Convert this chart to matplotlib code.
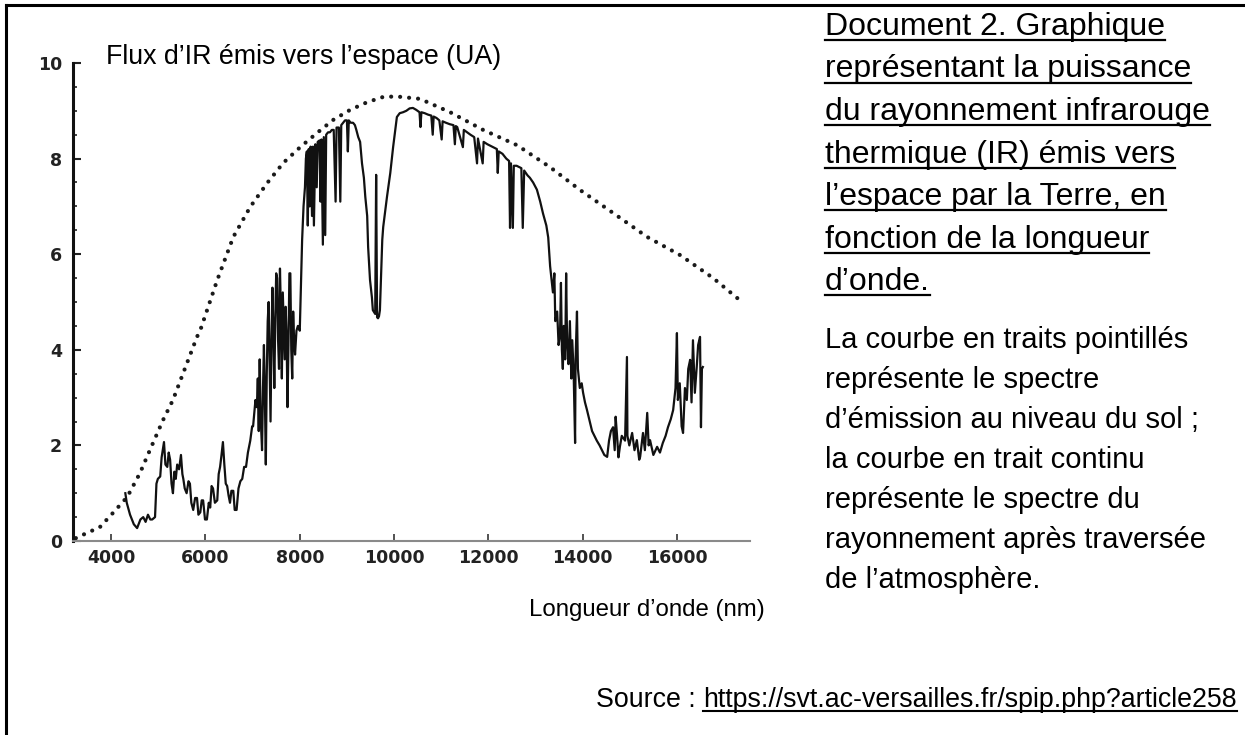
import matplotlib
matplotlib.use("Agg")
import matplotlib.pyplot as plt
from matplotlib.lines import Line2D
from matplotlib.ticker import MultipleLocator

# ---------------- data ----------------
# dotted curve: emission spectrum at ground level
dotted_wl = [3250, 3490, 3760, 4040, 4340, 4610, 4820, 5100, 5310, 5820, 5890, 6250,
             6590, 6950, 7310, 7650, 8010, 8370, 8710, 9070, 9430, 9770, 10050, 10550,
             11190, 11890, 12610, 13310, 13950, 14650, 15370, 16070, 16770, 17380]
dotted_val = [0.06, 0.17, 0.29, 0.59, 0.92, 1.42, 1.90, 2.53, 2.95, 4.27, 4.41, 5.46,
              6.36, 6.99, 7.49, 7.91, 8.24, 8.54, 8.81, 9.02, 9.18, 9.29, 9.30, 9.25,
              8.97, 8.60, 8.28, 7.82, 7.34, 6.86, 6.36, 5.98, 5.50, 5.00]

# solid curve: spectrum after crossing the atmosphere
solid_wl = [4300, 4330, 4400, 4480, 4550, 4620, 4680, 4730, 4780, 4830, 4870, 4930,
            4960, 4990, 5040, 5070, 5100, 5120, 5150, 5190, 5220, 5250, 5280, 5310,
            5340, 5370, 5400, 5440, 5480, 5510, 5530, 5560, 5600, 5640, 5670, 5700,
            5740, 5780, 5820, 5850, 5890, 5920, 5950, 5990, 6030, 6070, 6100, 6130,
            6160, 6200, 6250, 6280, 6310, 6340, 6370, 6400, 6430, 6460, 6490, 6520,
            6550, 6590, 6620, 6660, 6700, 6740, 6780, 6820, 6860, 6900, 6950, 6990,
            7010, 7060,
            7090, 7110, 7130, 7150, 7170, 7200, 7220, 7240, 7260, 7280, 7300, 7320,
            7340, 7360, 7380, 7400, 7420, 7440, 7460, 7480, 7500, 7520, 7540, 7560,
            7580, 7600, 7620, 7640, 7660, 7680, 7700, 7720, 7740, 7760, 7780, 7800,
            7820, 7840, 7860, 7880, 7900, 7930, 7960,
            8000, 8030, 8050, 8080, 8110, 8130, 8150, 8170, 8190, 8210, 8230, 8260,
            8280, 8300, 8330, 8360, 8380, 8420, 8440, 8460, 8490, 8510, 8540, 8560,
            8600, 8640, 8680, 8720, 8760, 8780, 8830, 8860, 8880, 8920, 8960, 9000,
            9020, 9040, 9080, 9130, 9170, 9200, 9240, 9280, 9320, 9360, 9390, 9430,
            9450, 9490, 9530, 9550, 9600, 9620, 9640, 9660, 9680, 9700, 9750, 9770,
            9850, 9920, 9980, 10060,
            10120, 10190, 10260, 10330, 10400, 10470, 10540, 10560, 10580, 10650,
            10720, 10790, 10820, 10840, 10900, 10960, 11010, 11030, 11100, 11180,
            11260, 11290, 11310, 11340, 11460, 11480, 11550, 11620, 11700, 11760,
            11780, 11880, 11900, 11980, 12080, 12180, 12200, 12220, 12300, 12380,
            12440, 12460, 12480, 12520, 12540, 12600, 12700, 12730, 12760, 12830,
            12880, 12950, 13030, 13100, 13160, 13230, 13270, 13310, 13370, 13400,
            13420, 13460, 13490, 13520, 13540, 13560, 13580, 13600, 13630, 13650,
            13670, 13700, 13730, 13760, 13780, 13810, 13840, 13850, 13880, 13900,
            13940, 13980, 14010, 14050, 14090, 14150, 14200, 14250, 14300, 14360,
            14410, 14460, 14520, 14560, 14600, 14645, 14680, 14700, 14730, 14760,
            14790, 14830, 14900, 14940, 14950, 14990, 15050, 15100, 15150, 15200,
            15220, 15280, 15320, 15370, 15400, 15430, 15500, 15580, 15640, 15700,
            15760, 15810, 15870, 15920, 15970, 16000, 16020, 16060, 16100, 16130,
            16170, 16210, 16240, 16280, 16310, 16340, 16380, 16420, 16450, 16490,
            16510, 16530, 16550]
solid_val = [1.00, 0.80, 0.55, 0.35, 0.27, 0.45, 0.50, 0.40, 0.55, 0.45, 0.45, 0.50,
             1.20, 1.30, 1.35, 1.75, 1.95, 2.07, 1.60, 1.55, 1.85, 1.70, 1.20, 1.00,
             1.45, 1.30, 1.60, 1.50, 1.80, 1.40, 1.30, 1.10, 1.00, 1.25, 1.20, 0.80,
             0.65, 0.90, 0.90, 0.55, 0.60, 0.85, 0.85, 0.45, 0.45, 0.80, 0.70, 1.15,
             1.10, 0.80, 0.85, 1.40, 1.55, 1.80, 2.07, 1.60, 1.20, 1.15, 0.95, 0.80,
             1.05, 1.05, 0.65, 0.65, 1.10, 1.25, 1.30, 1.55, 1.55, 1.85, 2.10, 2.40,
             2.40, 2.95,
             2.80, 3.40, 2.30, 3.80, 2.60, 1.90, 3.20, 4.10, 3.00, 1.60, 3.50, 4.60,
             5.00, 3.80, 2.50, 4.20, 5.30, 4.40, 3.20, 4.60, 5.60, 5.50, 4.20, 3.60,
             5.70, 4.80, 3.40, 5.20, 4.50, 3.80, 4.90, 4.30, 2.80, 4.10, 5.60, 5.60,
             4.00, 3.40, 4.80, 4.20, 3.90, 4.40, 4.50,
             4.40, 5.50, 6.30, 7.00, 7.40, 8.00, 8.15, 6.60, 8.20, 7.00, 8.25, 6.80,
             8.25, 6.60, 8.30, 7.40, 8.35, 8.38, 7.10, 8.40, 6.20, 8.45, 6.40, 8.50,
             8.55, 8.55, 8.60, 8.60, 7.10, 8.65, 8.65, 7.10, 8.70, 8.75, 8.80, 8.80,
             8.15, 8.80, 8.75, 8.75, 8.70, 8.60, 8.45, 8.35, 7.90, 7.60, 7.20, 6.80,
             6.15, 5.46, 5.10, 4.83, 4.75, 7.66, 4.68, 4.66, 4.70, 4.83, 6.30, 6.57,
             7.20, 7.70, 8.24, 8.87,
             8.95, 8.97, 9.00, 9.05, 9.06, 9.02, 8.97, 8.66, 8.97, 8.95,
             8.92, 8.90, 8.50, 8.88, 8.85, 8.80, 8.40, 8.78, 8.75, 8.72,
             8.70, 8.30, 8.68, 8.66, 8.24, 8.60, 8.55, 8.50, 8.45, 7.90,
             8.42, 7.90, 8.35, 8.30, 8.25, 8.20, 7.70, 8.15, 8.10, 8.00,
             7.95, 6.55, 7.90, 6.55, 7.85, 7.85, 7.80, 6.55, 7.75, 7.65,
             7.60, 7.50, 7.35, 7.10, 6.85, 6.60, 6.35, 5.75, 5.20, 5.60,
             4.60, 4.80, 4.10, 4.30, 5.40, 4.00, 3.60, 4.50, 3.80, 5.60,
             4.20, 3.70, 4.60, 3.40, 4.20, 3.50, 2.05, 3.80, 4.80, 3.60,
             3.20, 3.30, 3.10, 2.90, 2.75, 2.50, 2.30, 2.20, 2.10, 2.00,
             1.90, 1.80, 1.76, 2.10, 2.30, 2.38, 1.90, 2.60, 2.20, 1.75,
             1.97, 2.20, 2.10, 3.85, 2.20, 2.00, 2.26, 1.90, 2.11, 1.70,
             1.76, 2.26, 1.90, 2.68, 2.00, 2.11, 1.80, 1.97, 1.85, 2.05,
             2.20, 2.38, 2.55, 2.74, 3.20, 4.35, 2.95, 3.30, 2.40, 2.26,
             3.20, 2.95, 3.60, 3.79, 2.90, 4.20, 3.10, 3.64, 4.10, 4.27,
             2.38, 3.60, 3.64]

x_ticks = [4000, 6000, 8000, 10000, 12000, 14000, 16000]
y_ticks = [0, 2, 4, 6, 8, 10]

y_title = "Flux d’IR émis vers l’espace (UA)"
x_title = "Longueur d’onde (nm)"
doc_lines = ["Document 2. Graphique", "représentant la puissance",
             "du rayonnement infrarouge", "thermique (IR) émis vers",
             "l’espace par la Terre, en", "fonction de la longueur", "d’onde."]
para_lines = ["La courbe en traits pointillés", "représente le spectre",
              "d’émission au niveau du sol ;", "la courbe en trait continu",
              "représente le spectre du", "rayonnement après traversée",
              "de l’atmosphère."]
source_label = "Source : "
source_url = "https://svt.ac-versailles.fr/spip.php?article258"

# ---------------- figure ----------------
W, H = 1245, 735
plt.rcParams['font.family'] = ['Liberation Sans', 'DejaVu Sans']
fig = plt.figure(figsize=(W / 100, H / 100), dpi=100)
fig.patch.set_facecolor('white')

ax = fig.add_axes([73 / W, (H - 541) / H, 677 / W, 478 / H])
ax.plot(dotted_wl, dotted_val, color='#1a1a1a', lw=3.0,
        linestyle=(0, (0.01, 2.15)), dash_capstyle='round')
ax.plot(solid_wl, solid_val, color='#111111', lw=1.6)

ax.set_xlim(3190, 17550)
ax.set_ylim(0, 10)
for s in ('top', 'right'):
    ax.spines[s].set_visible(False)
ax.spines['left'].set_linewidth(2.2)
ax.spines['left'].set_color('#111111')
ax.spines['bottom'].set_linewidth(1.5)
ax.spines['bottom'].set_color('#8a8a8a')

ax.set_xticks(x_ticks)
ax.set_yticks(y_ticks)
ax.set_xticklabels([str(v) for v in x_ticks])
ax.set_yticklabels([str(v) for v in y_ticks])
ax.yaxis.set_minor_locator(MultipleLocator(0.5))
ax.tick_params(axis='x', direction='in', length=5, width=1.3, color='#444444', pad=6)
ax.tick_params(axis='y', which='major', direction='in', length=6, width=1.5,
               color='#222222', pad=8)
ax.tick_params(axis='y', which='minor', direction='in', length=3, width=1.2,
               color='#222222')
for lab in ax.get_xticklabels() + ax.get_yticklabels():
    lab.set_fontfamily('DejaVu Sans')
    lab.set_fontweight('bold')
    lab.set_fontsize(12.5)
    lab.set_color('#222222')

# axis titles
fig.text(106 / W, 1 - 64 / H, y_title, fontsize=19.3, va='baseline', ha='left')
fig.text(765 / W, 1 - 616 / H, x_title, fontsize=17.3, va='baseline', ha='right')

# right-hand texts
doc_texts = []
for i, line in enumerate(doc_lines):
    t = fig.text(825 / W, 1 - (35 + 42.5 * i) / H, line, fontsize=23,
                 va='baseline', ha='left')
    doc_texts.append(t)
for i, line in enumerate(para_lines):
    fig.text(825 / W, 1 - (348 + 40 * i) / H, line, fontsize=21,
             va='baseline', ha='left')

url_t = fig.text(1237 / W, 1 - 707 / H, source_url, fontsize=19.3,
                 va='baseline', ha='right')

# frame lines (left and top)
fig.add_artist(Line2D([6 / W, 6 / W], [0, 1 - 5 / H], transform=fig.transFigure,
                      color='black', lw=2.2))
fig.add_artist(Line2D([6 / W, 1], [1 - 5 / H, 1 - 5 / H], transform=fig.transFigure,
                      color='black', lw=2.2))

# underlines
fig.canvas.draw()
r = fig.canvas.get_renderer()
for i, t in enumerate(doc_texts):
    bb = t.get_window_extent(r)
    yb = 35 + 42.5 * i + 5
    fig.add_artist(Line2D([bb.x0 / W, bb.x1 / W], [1 - yb / H, 1 - yb / H],
                          transform=fig.transFigure, color='black', lw=1.6))
bb = url_t.get_window_extent(r)
fig.text(bb.x0 / W, 1 - 707 / H, source_label, fontsize=19.3, va='baseline', ha='right')
fig.add_artist(Line2D([bb.x0 / W, bb.x1 / W], [1 - 711 / H, 1 - 711 / H],
                      transform=fig.transFigure, color='black', lw=1.5))

fig.savefig('out.png', dpi=100, facecolor='white')
